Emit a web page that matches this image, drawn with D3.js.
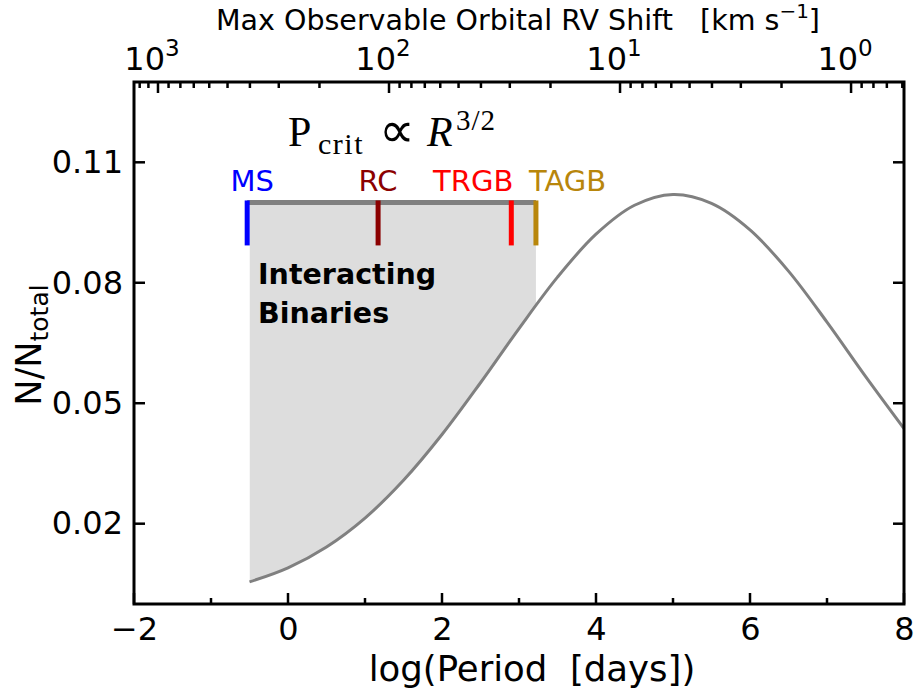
<!DOCTYPE html>
<html>
<head>
<meta charset="utf-8">
<script src="https://cdn.jsdelivr.net/npm/d3@7"></script>
<style>
  body { margin: 0; background: #fff; }
  text { font-family: "DejaVu Sans", sans-serif; }
</style>
</head>
<body>
<div id="chart"></div>
<script>
// Period distribution (log P in days -> N/Ntotal)
const logPeriod = [-0.5, 0, 0.5, 1, 1.5, 2, 2.5, 3, 3.5, 4, 4.5, 5, 5.5, 6, 6.5, 7, 7.5, 8];
const fraction  = [0.0055, 0.0090, 0.0142, 0.0214, 0.0308, 0.0422, 0.0551, 0.0686, 0.0814,
                   0.0921, 0.0993, 0.1020, 0.0998, 0.0932, 0.0829, 0.0702, 0.0567, 0.0437];

// critical periods for each evolutionary stage
const stageNames  = ['MS', 'RC', 'TRGB', 'TAGB'];
const stageLogP   = [-0.53, 1.17, 2.90, 3.22];
const stageColors = ['#0000ff', '#8b0000', '#ff0000', '#b8860b'];
const stageAnchor = ['middle', 'middle', 'end', 'start'];
const stageDx     = [5, 0, 2, -7];

const barLevel  = 0.1;      // N/Ntotal of the horizontal bar
const tickLow   = 0.0893;   // bottom of the stage ticks
const tickHigh  = 0.1005;

const xTicks      = [-2, 0, 2, 4, 6, 8];
const xMinorTicks = [-1, 1, 3, 5, 7];
const yTicks      = [0.02, 0.05, 0.08, 0.11];
const rvTicks     = [1000, 100, 10, 1];
const rvDomain    = [1270, 0.59];   // RV shift at log P = -2 and 8

const W = 914, H = 693;
const margin = { top: 82, right: 10, bottom: 89, left: 134 };
const w = W - margin.left - margin.right;
const h = H - margin.top - margin.bottom;

const svg = d3.select('#chart').append('svg')
  .attr('width', W).attr('height', H);

const g = svg.append('g').attr('transform', `translate(${margin.left},${margin.top})`);

const x = d3.scaleLinear().domain([-2, 8]).range([0, w]);
const y = d3.scaleLinear().domain([0, 0.13]).range([h, 0]);
const xTop = d3.scaleLog().domain(rvDomain).range([0, w]);

const pts = logPeriod.map((p, i) => [p, fraction[i]]);

// ── Clip to the plot box and to the interacting region ─────────────────────
const defs = svg.append('defs');
defs.append('clipPath').attr('id', 'plot-clip')
  .append('rect').attr('width', w).attr('height', h);
defs.append('clipPath').attr('id', 'ib-clip')
  .append('rect')
  .attr('x', x(-0.5)).attr('width', x(stageLogP[3]) - x(-0.5))
  .attr('y', 0).attr('height', h);

// ── Shaded interacting-binaries area ───────────────────────────────────────
g.append('path')
  .datum(pts)
  .attr('clip-path', 'url(#ib-clip)')
  .attr('fill', '#dddddd')
  .attr('d', d3.area()
    .x(d => x(d[0]))
    .y0(y(barLevel))
    .y1(d => y(d[1]))
    .curve(d3.curveCatmullRom));

g.append('text')
  .style('font-size', '28.5px').style('font-weight', 'bold')
  .selectAll('tspan')
  .data(['Interacting', 'Binaries'])
  .join('tspan')
  .attr('x', 258 - margin.left)
  .attr('y', (d, i) => (i ? 323 : 284) - margin.top)
  .text(d => d);

// ── Distribution curve ─────────────────────────────────────────────────────
g.append('path')
  .datum(pts)
  .attr('clip-path', 'url(#plot-clip)')
  .attr('fill', 'none')
  .attr('stroke', '#808080')
  .attr('stroke-width', 3)
  .attr('d', d3.line()
    .x(d => x(d[0]))
    .y(d => y(d[1]))
    .curve(d3.curveCatmullRom));

// ── Stage bar and ticks ────────────────────────────────────────────────────
g.append('line')
  .attr('x1', x(stageLogP[0])).attr('x2', x(stageLogP[3]))
  .attr('y1', y(barLevel)).attr('y2', y(barLevel))
  .attr('stroke', '#808080').attr('stroke-width', 5);

g.selectAll('.stage-tick')
  .data(stageLogP)
  .join('line')
  .attr('class', 'stage-tick')
  .attr('x1', d => x(d)).attr('x2', d => x(d))
  .attr('y1', y(tickLow)).attr('y2', y(tickHigh))
  .attr('stroke', (d, i) => stageColors[i])
  .attr('stroke-width', 5);

g.selectAll('.stage-label')
  .data(stageNames)
  .join('text')
  .attr('class', 'stage-label')
  .attr('x', (d, i) => x(stageLogP[i]) + stageDx[i])
  .attr('y', 191 - margin.top)
  .attr('text-anchor', (d, i) => stageAnchor[i])
  .attr('fill', (d, i) => stageColors[i])
  .style('font-size', '29px')
  .text(d => d);

// P_crit ∝ R^{3/2}  (math-style pieces placed like the TeX layout)
const eqParts = [
  { t: 'P',      x: 288, y: 146, size: 42 },
  { t: 'crit',   x: 318, y: 154, size: 30, ls: 1.5 },
  { t: '\u221D', x: 379, y: 147, size: 50 },
  { t: 'R',      x: 427, y: 146, size: 42, italic: true },
  { t: '3/2',    x: 456, y: 130, size: 29, ls: 1 },
];
g.selectAll('.eq')
  .data(eqParts)
  .join('text')
  .attr('class', 'eq')
  .attr('x', d => d.x - margin.left)
  .attr('y', d => d.y - margin.top)
  .style('letter-spacing', d => (d.ls || 0) + 'px')
  .style('font-family', '"Liberation Serif", serif')
  .style('font-style', d => d.italic ? 'italic' : 'normal')
  .style('font-size', d => d.size + 'px')
  .text(d => d.t);

// ── Axes ───────────────────────────────────────────────────────────────────
const fmtY = d3.format('.2f');
const tickFont = '32px';

g.append('g')
  .attr('transform', `translate(0,${h})`)
  .call(d3.axisBottom(x).tickValues(xTicks).tickSize(0).tickPadding(13)
    .tickFormat(d => d < 0 ? '\u2212' + Math.abs(d) : d))
  .call(a => a.select('.domain').remove())
  .selectAll('text').style('font-size', tickFont).attr('fill', '#000');

g.append('g')
  .call(d3.axisLeft(y).tickValues(yTicks).tickSize(0).tickPadding(11).tickFormat(fmtY))
  .call(a => a.select('.domain').remove())
  .selectAll('text').style('font-size', tickFont).attr('fill', '#000');

// top: RV shift on a reversed log scale
const rvMinor = [];
[1, 10, 100].forEach(dec => d3.range(2, 10).forEach(k => rvMinor.push(dec * k)));
d3.range(6, 10).forEach(k => rvMinor.push(0.1 * k));
rvMinor.push(1100, 1200);

g.append('g').selectAll('.rv-label')
  .data(rvTicks)
  .join('text')
  .attr('class', 'rv-label')
  .attr('x', d => xTop(d) - 6)
  .attr('y', 70 - margin.top)
  .attr('text-anchor', 'middle')
  .style('font-size', tickFont)
  .call(t => {
    t.append('tspan').text('10');
    t.append('tspan').attr('dy', -14).style('font-size', '23px')
      .text(d => Math.round(Math.log10(d)));
  });

const ticks = g.append('g').attr('stroke', '#000').attr('stroke-width', 2.5);
const major = 11, minor = 6;
xTicks.forEach(v => ticks.append('line').attr('x1', x(v)).attr('x2', x(v)).attr('y1', h).attr('y2', h - major));
xMinorTicks.forEach(v => ticks.append('line').attr('x1', x(v)).attr('x2', x(v)).attr('y1', h).attr('y2', h - minor));
yTicks.forEach(v => {
  ticks.append('line').attr('x1', 0).attr('x2', major).attr('y1', y(v)).attr('y2', y(v));
  ticks.append('line').attr('x1', w).attr('x2', w - major).attr('y1', y(v)).attr('y2', y(v));
});
rvTicks.forEach(v => ticks.append('line').attr('x1', xTop(v)).attr('x2', xTop(v)).attr('y1', 0).attr('y2', major));
rvMinor.filter(v => v <= rvDomain[0] && v >= rvDomain[1])
  .forEach(v => ticks.append('line').attr('x1', xTop(v)).attr('x2', xTop(v)).attr('y1', 0).attr('y2', minor));

// frame
g.append('rect')
  .attr('width', w).attr('height', h)
  .attr('fill', 'none').attr('stroke', '#000').attr('stroke-width', 3);

// ── Axis titles ────────────────────────────────────────────────────────────
svg.append('text')
  .attr('x', 532).attr('y', 681)
  .attr('text-anchor', 'middle')
  .style('font-size', '35.5px')
  .text('log(Period\u00A0\u00A0[days])');

const yl = svg.append('text')
  .attr('transform', 'translate(41,345) rotate(-90)')
  .attr('text-anchor', 'middle')
  .style('font-size', '35px');
yl.append('tspan').text('N/N');
yl.append('tspan').attr('dy', 7).style('font-size', '25px').text('total');

const tl = svg.append('text')
  .attr('x', 518).attr('y', 30)
  .attr('text-anchor', 'middle')
  .style('font-size', '28.5px');
tl.append('tspan').text('Max Observable Orbital RV Shift\u00A0\u00A0\u00A0[km s');
tl.append('tspan').attr('dy', -12).style('font-size', '20px').text('\u22121');
tl.append('tspan').attr('dy', 12).text(']');
</script>
</body>
</html>
